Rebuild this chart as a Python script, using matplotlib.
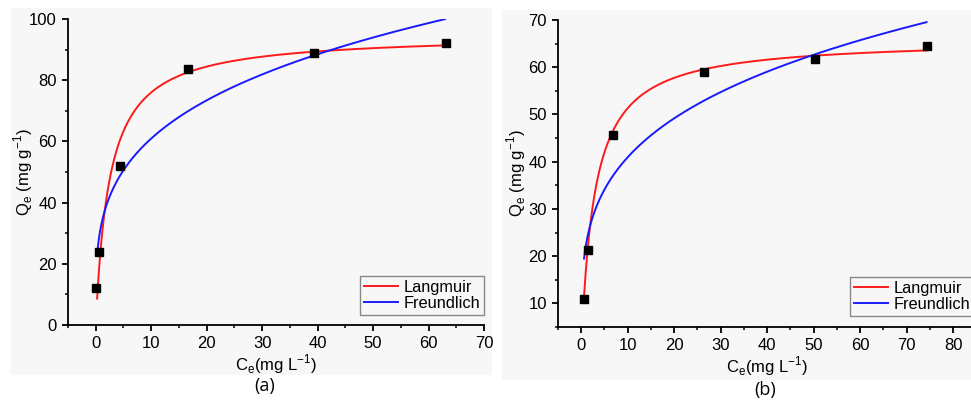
import matplotlib.pyplot as plt
import numpy as np
from matplotlib.patches import Rectangle
from matplotlib.ticker import MultipleLocator

plt.rcParams['font.family'] = ['Liberation Sans', 'DejaVu Sans']
plt.rcParams['mathtext.fontset'] = 'custom'
plt.rcParams['mathtext.rm'] = 'Liberation Sans'

# (a) measured points and fitted isotherm parameters
ce_a = [0.1, 0.55, 4.3, 16.6, 39.4, 63.2]
qe_a = [12.0, 23.8, 52.0, 83.5, 89.0, 92.3]
lang_a = (95.0, 0.40)      # qm, KL
freu_a = (32.8, 0.269)     # KF, 1/n
range_a = (0.25, 63.0)

# (b) measured points and fitted isotherm parameters
ce_b = [0.6, 1.5, 6.8, 26.5, 50.3, 74.3]
qe_b = [11.0, 21.3, 45.7, 58.9, 61.7, 64.5]
lang_b = (66.0, 0.35)
freu_b = (22.3, 0.264)
range_b = (0.6, 74.3)

fig = plt.figure(figsize=(9.71, 4.03), dpi=100)

# grey panel backgrounds
W, H = 971.0, 403.0
for x0, y0, x1, y1 in [(11, 8, 492, 375), (502, 10, 971, 380)]:
    fig.patches.append(Rectangle((x0 / W, 1 - y1 / H), (x1 - x0) / W, (y1 - y0) / H,
                                 transform=fig.transFigure, facecolor='#f7f7f7',
                                 edgecolor='none', zorder=-1))

ax1 = fig.add_axes([68 / W, 1 - 325 / H, (484 - 68) / W, (325 - 19) / H])
ax2 = fig.add_axes([558 / W, 1 - 327 / H, (976.3 - 558) / W, (327 - 20) / H])


def draw(ax, ce, qe, lang, freu, crange, xlim, ylim, xstep, ystep, ypad, legpos):
    c = np.linspace(crange[0], crange[1], 400)
    qm, kl = lang
    kf, inv_n = freu
    ax.plot(c, qm * kl * c / (1 + kl * c), color='#ff1a1a', lw=1.4, label='Langmuir')
    ax.plot(c, kf * c ** inv_n, color='#1a1aff', lw=1.4, label='Freundlich')
    ax.plot(ce, qe, 's', color='black', ms=6, zorder=5, clip_on=False)
    ax.set_xlim(*xlim)
    ax.set_ylim(*ylim)
    ax.xaxis.set_major_locator(MultipleLocator(xstep))
    ax.xaxis.set_minor_locator(MultipleLocator(xstep / 2))
    ax.yaxis.set_major_locator(MultipleLocator(ystep))
    ax.yaxis.set_minor_locator(MultipleLocator(ystep / 2))
    ax.set_facecolor('none')
    for s in ['top', 'right']:
        ax.spines[s].set_visible(False)
    for s in ['left', 'bottom']:
        ax.spines[s].set_linewidth(1.3)
    ax.tick_params(which='major', direction='out', length=4.5, width=1.3, labelsize=12)
    ax.tick_params(which='minor', direction='out', length=2.5, width=1.1)
    ax.set_xlabel(r'C$_\mathregular{e}$(mg L$^\mathregular{-1}$)', fontsize=12, labelpad=1)
    ax.set_ylabel(r'Q$_\mathregular{e}$ (mg g$^\mathregular{-1}$)', fontsize=12, labelpad=ypad)
    leg = ax.legend(loc='lower right', bbox_to_anchor=(legpos[0] / W, 1 - legpos[1] / H),
                    bbox_transform=fig.transFigure, borderaxespad=0,
                    fontsize=11.8, fancybox=False, framealpha=1,
                    facecolor='#f7f7f7', edgecolor='#888888', handlelength=2.1,
                    handletextpad=0.3, borderpad=0.25, labelspacing=0.05)
    leg.get_frame().set_linewidth(1.0)


draw(ax1, ce_a, qe_a, lang_a, freu_a, range_a, (-5, 70), (0, 100), 10, 20, -4, (484, 315))
draw(ax2, ce_b, qe_b, lang_b, freu_b, range_b, (-5, 85), (5, 70), 10, 10, 0, (974, 316))

fig.text(265 / W, 1 - 386 / H, '(a)', ha='center', va='center', fontsize=13,
         family=['Open Sans', 'DejaVu Sans'])
fig.text(765 / W, 1 - 390 / H, '(b)', ha='center', va='center', fontsize=13,
         family=['Open Sans', 'DejaVu Sans'])

fig.savefig('out.png', dpi=100)
